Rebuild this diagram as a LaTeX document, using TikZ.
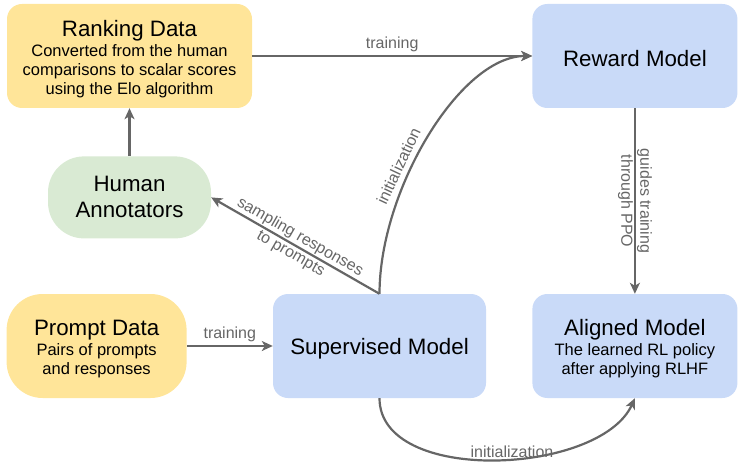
\documentclass[tikz,border=0pt]{standalone}
\usepackage{fontspec}
\setmainfont{Liberation Sans}
\usetikzlibrary{arrows.meta, positioning}
\definecolor{datayellow}{HTML}{FFE599}
\definecolor{humangreen}{HTML}{D9EAD3}
\definecolor{modelblue}{HTML}{C9DAF8}
\definecolor{edgegray}{HTML}{666666}
\newcommand{\boxtitle}{\fontsize{22.3}{26}\selectfont\rule{0pt}{22pt}}
\newcommand{\boxsub}{\fontsize{16.5}{19}\selectfont}
\newcommand{\edgefont}{\fontsize{16}{19}\selectfont}

\begin{document}
\begin{tikzpicture}[
        x=1pt, y=1pt,
        node distance=48pt and 280pt,
        >={Stealth[length=11pt, width=10pt, inset=3pt]},
        font=\boxsub,
        block/.style={rectangle, draw=none, align=center, inner sep=0pt, minimum height=104pt, rounded corners=15pt},
        databox/.style={block, fill=datayellow},
        modelbox/.style={block, fill=modelblue, minimum width=205pt},
        pill/.style={rounded corners=36pt},
        flow/.style={->, draw=edgegray, line width=2.2pt},
        edgelabel/.style={text=edgegray, font=\edgefont}
    ]
    \useasboundingbox (0,0) rectangle (738,-462);

    % --- Data and annotators (left) ---
    \node (ranking) [databox, minimum width=245pt] at (129.5,-56) {{\boxtitle Ranking Data}\\[1pt] Converted from the human\\comparisons to scalar scores\\using the Elo algorithm};
    \node (annot) [block, pill, fill=humangreen, minimum width=163pt, minimum height=82pt, font=\fontsize{22.3}{26}\selectfont, below=48pt of ranking] {Human\\Annotators};

    % --- Models ---
    \node (reward) [modelbox, right=280pt of ranking] {\boxtitle Reward Model};
    \node (superv) [modelbox, minimum width=213pt] at (379.5,-346) {\boxtitle Supervised Model};
    \node (prompt) [databox, pill, minimum width=180pt, left=86pt of superv] {{\boxtitle Prompt Data}\\[1pt] Pairs of prompts\\and responses};
    \node (aligned) [modelbox, right=46pt of superv] {{\boxtitle Aligned Model}\\[1pt] The learned RL policy\\after applying RLHF};

    % --- Training paths ---
    \draw[flow] (ranking) -- node[edgelabel, above] {training} (reward);
    \draw[flow] (prompt) -- node[edgelabel, above] {training} (superv);
    \draw[flow] (annot) -- (ranking);

    % --- Sampling and PPO ---
    \draw[flow] (superv.north) -- node[edgelabel, sloped, align=center] {sampling responses\\to prompts} (annot.east);
    \draw[flow] (reward) -- node[edgelabel, rotate=-90, align=center] {guides training\\through PPO} (aligned);

    % --- Initialization curves ---
    \draw[flow] (superv.north) .. controls +(0,104) and +(-72,0) .. (reward.west)
        node[edgelabel, pos=0.38, sloped, above=2pt] {initialization};
    \draw[flow] (superv.south) .. controls +(0,-87) and +(-35,-77) .. (aligned.south)
        node[edgelabel, pos=0.55, above=-3pt] {initialization};

\end{tikzpicture}
\end{document}
